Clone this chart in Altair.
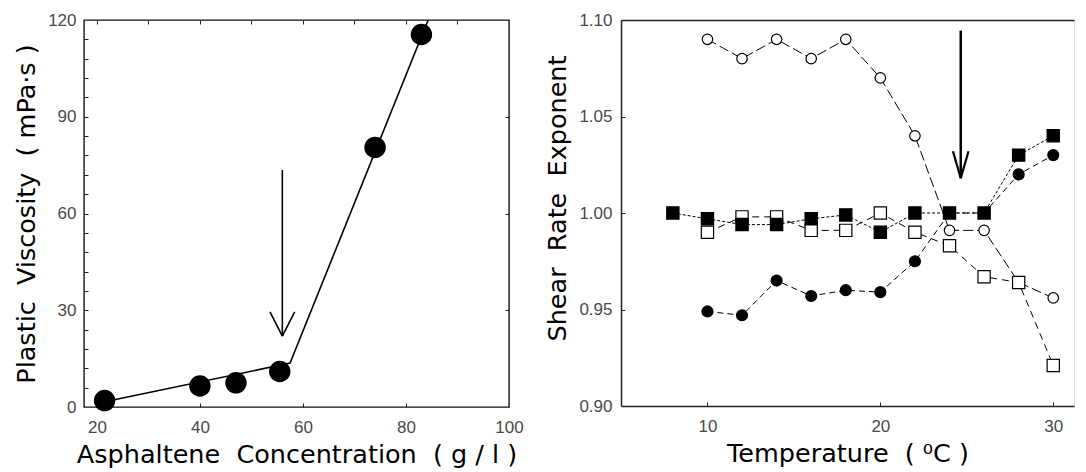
import altair as alt
import pandas as pd

# ---------------- Left panel data ----------------
conc = [21.5, 40.0, 47.0, 55.5, 74.0, 83.0]
visc = [2.0, 6.5, 7.5, 11.0, 80.5, 115.5]
fit_conc = [21.5, 57.5, 84.3]
fit_visc = [1.6, 13.6, 120.0]
arrowL_x = [56.0]
arrowL_top = [73.5]
arrowL_tip = [22.0]
arrowL_head_x = [53.6, 58.4]
arrowL_head_y = [29.5, 29.5]

left_x_ticks = [20, 40, 60, 80, 100]
left_y_ticks = [0, 30, 60, 90, 120]
left_top_minor = [20, 30, 40, 50, 60, 70, 80, 90]
left_left_minor = [6, 12, 18, 24, 30, 36, 42, 48, 54, 60, 66, 72, 78, 84, 90, 96, 102, 108, 114]
left_right_minor = [30, 60, 90]
left_bottom_minor = [20, 40, 60, 80]

# ---------------- Right panel data ----------------
T_open_circle = [10, 12, 14, 16, 18, 20, 22, 24, 26, 28, 30]
n_open_circle = [1.090, 1.080, 1.090, 1.080, 1.090, 1.070, 1.040, 0.991, 0.991, 0.964, 0.956]
T_filled_circle = [10, 12, 14, 16, 18, 20, 22, 24, 26, 28, 30]
n_filled_circle = [0.949, 0.947, 0.965, 0.957, 0.960, 0.959, 0.975, 1.000, 1.000, 1.020, 1.030]
T_filled_square = [8, 10, 12, 14, 16, 18, 20, 22, 24, 26, 28, 30]
n_filled_square = [1.000, 0.997, 0.994, 0.994, 0.997, 0.999, 0.990, 1.000, 1.000, 1.000, 1.030, 1.040]
T_open_square = [10, 12, 14, 16, 18, 20, 22, 24, 26, 28, 30]
n_open_square = [0.990, 0.998, 0.998, 0.991, 0.991, 1.000, 0.990, 0.983, 0.967, 0.964, 0.921]
arrowR_x = [24.65]
arrowR_top = [1.0945]
arrowR_tip = [1.018]
arrowR_head_x = [24.2, 25.1]
arrowR_head_y = [1.032, 1.032]

right_x_ticks = [10, 20, 30]
right_y_ticks = [0.90, 0.95, 1.00, 1.05, 1.10]

TICK_FONT = "Liberation Sans"
TITLE_FONT = "DejaVu Sans"
NB = "\u00a0"


def label_axis(orient, values, title, fmt, label_pad, title_pad, domain=False, title_y=None):
    kw = dict(orient=orient, values=values, format=fmt, ticks=False, tickSize=0,
              domain=domain, grid=False, labelFont=TICK_FONT, labelFontSize=17,
              labelColor="#4a4a4a", labelPadding=label_pad, labelFlush=False,
              labelOverlap=False, titleFont=TITLE_FONT, titleFontSize=25.5,
              titleFontWeight="normal", titleColor="black", titlePadding=title_pad)
    kw["title"] = title
    if title_y is not None:
        kw["titleY"] = title_y
    if domain:
        kw["domainColor"] = "#222222"
        kw["domainWidth"] = 1.5
    return alt.Axis(**kw)


def tick_axis(orient, values, size=4):
    return alt.Axis(orient=orient, values=values, labels=False, domain=False, ticks=True,
                    tickSize=size, offset=-size, tickColor="#222222", tickWidth=1,
                    grid=False, title=None)


def line_axis(orient):
    return alt.Axis(orient=orient, labels=False, ticks=False, domain=True,
                    domainColor="#222222", domainWidth=1.5, grid=False, title=None)


# ---------------- Left panel ----------------
xsL = alt.Scale(domain=[17.5, 100], nice=False, zero=False)
ysL = alt.Scale(domain=[0, 120], nice=False, zero=False)

df_pts = pd.DataFrame({"c": conc, "v": visc})
df_fit = pd.DataFrame({"c": fit_conc, "v": fit_visc})
df_shaftL = pd.DataFrame({"x": arrowL_x, "y": arrowL_top, "y2": arrowL_tip})
df_headL = pd.DataFrame({"x": arrowL_head_x, "y": arrowL_head_y,
                         "x2": arrowL_x * 2, "y2": arrowL_tip * 2})

titleL_y = f"Plastic{NB} Viscosity{NB} ( mPa·s )"
titleL_x = f"Asphaltene{NB} Concentration{NB} ( g / l )"

fitL = alt.Chart(df_fit).mark_line(color="black", strokeWidth=1.6, clip=True).encode(
    x=alt.X("c:Q", scale=xsL, axis=label_axis("bottom", left_x_ticks, titleL_x, "d", 12, 7)),
    y=alt.Y("v:Q", scale=ysL, axis=label_axis("left", left_y_ticks, titleL_y, "d", 8, 8)),
)
ptsL = alt.Chart(df_pts).mark_circle(size=460, color="black", opacity=1).encode(
    x=alt.X("c:Q", scale=xsL, axis=tick_axis("top", left_top_minor)),
    y=alt.Y("v:Q", scale=ysL, axis=tick_axis("right", left_right_minor)),
)
shaftL = alt.Chart(df_shaftL).mark_rule(color="black", strokeWidth=1.6).encode(
    x=alt.X("x:Q", scale=xsL, axis=tick_axis("bottom", left_bottom_minor)),
    y=alt.Y("y:Q", scale=ysL, axis=tick_axis("left", left_left_minor)),
    y2="y2:Q",
)
headL = alt.Chart(df_headL).mark_rule(color="black", strokeWidth=1.6).encode(
    x=alt.X("x:Q", scale=xsL, axis=None),
    y=alt.Y("y:Q", scale=ysL, axis=None),
    x2="x2:Q", y2="y2:Q",
)
left = alt.layer(fitL, ptsL, shaftL, headL).resolve_axis(
    x="independent", y="independent"
).properties(width=425, height=387,
             view=alt.ViewBackground(stroke="#111111", strokeWidth=1.4))

# ---------------- Right panel ----------------
xsR = alt.Scale(domain=[5, 31.2], nice=False, zero=False)
ysR = alt.Scale(domain=[0.90, 1.10], nice=False, zero=False)

titleR_y = f"Shear{NB} Rate{NB} Exponent"
titleR_x = f"Temperature{NB} ( \u2070C )"


def series(T, n, dash, shape, filled, size, axes=None):
    df = pd.DataFrame({"t": T, "n": n})
    if axes is None:
        ax_x, ax_y = None, None
    else:
        ax_x, ax_y = axes
    line = alt.Chart(df).mark_line(color="black", strokeWidth=1, strokeDash=dash).encode(
        x=alt.X("t:Q", scale=xsR, axis=ax_x),
        y=alt.Y("n:Q", scale=ysR, axis=ax_y),
    )
    pts = alt.Chart(df).mark_point(shape=shape, filled=True, size=size, opacity=1,
                                   fill="black" if filled else "white",
                                   stroke="black", strokeWidth=1.2).encode(
        x=alt.X("t:Q", scale=xsR, axis=None),
        y=alt.Y("n:Q", scale=ysR, axis=None),
    )
    return [line, pts]


layersR = []
layersR += series(T_open_circle, n_open_circle, [10, 4], "circle", False, 110,
                  (label_axis("bottom", right_x_ticks, titleR_x, "d", 12, 7, domain=True),
                   label_axis("left", right_y_ticks, titleR_y, ".2f", 9, 8, domain=True,
                              title_y=178)))
layersR += series(T_open_square, n_open_square, [7, 5], "square", False, 150,
                  (tick_axis("bottom", right_x_ticks), tick_axis("left", right_y_ticks[1:-1])))
layersR += series(T_filled_circle, n_filled_circle, [6, 4], "circle", True, 120,
                  (line_axis("top"), None))
layersR += series(T_filled_square, n_filled_square, [3, 2], "square", True, 150)

df_shaftR = pd.DataFrame({"x": arrowR_x, "y": arrowR_top, "y2": arrowR_tip})
df_headR = pd.DataFrame({"x": arrowR_head_x, "y": arrowR_head_y,
                         "x2": arrowR_x * 2, "y2": arrowR_tip * 2})
shaftR = alt.Chart(df_shaftR).mark_rule(color="black", strokeWidth=2.5).encode(
    x=alt.X("x:Q", scale=xsR, axis=None),
    y=alt.Y("y:Q", scale=ysR, axis=None),
    y2="y2:Q",
)
headR = alt.Chart(df_headR).mark_rule(color="black", strokeWidth=2.2).encode(
    x=alt.X("x:Q", scale=xsR, axis=None),
    y=alt.Y("y:Q", scale=ysR, axis=None),
    x2="x2:Q", y2="y2:Q",
)
layersR += [shaftR, headR]

right = alt.layer(*layersR).resolve_axis(
    x="independent", y="independent"
).properties(width=453, height=386)

chart = alt.hconcat(left, right, spacing=112, bounds="flush").properties(
    padding={"left": 5, "top": 2, "right": 0, "bottom": 0}
).configure_view(stroke="transparent").configure(background="white")

chart.save("out.html", embed_options={"renderer": "svg", "actions": False})
